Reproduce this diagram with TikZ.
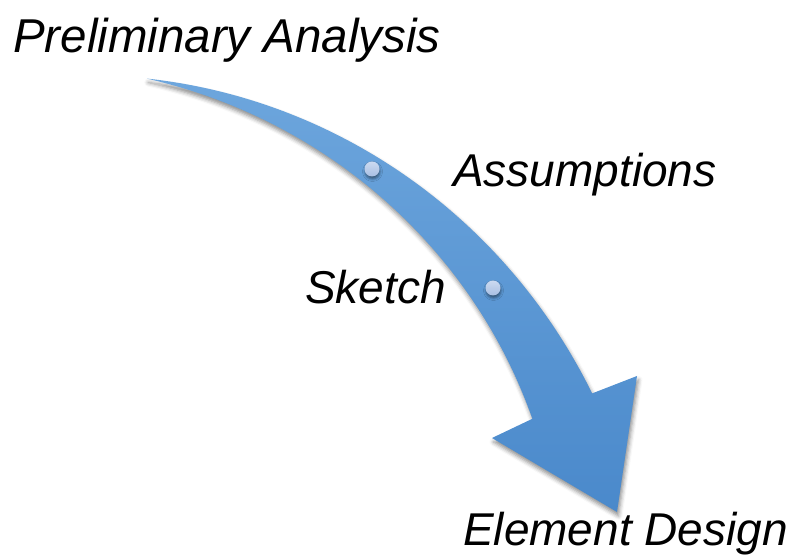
\documentclass[tikz,border=0pt]{standalone}
\usepackage{fontspec}
\setmainfont{Liberation Sans}
\usetikzlibrary{shadows.blur}
\definecolor{arrowtop}{HTML}{6DA6DD}
\definecolor{arrowbot}{HTML}{4A89CB}
\definecolor{dottop}{HTML}{CCDAF0}
\definecolor{dotbot}{HTML}{A8BFE3}
\tikzset{
  txt/.style={font=\fontsize{46}{52}\selectfont\itshape, anchor=base west, inner sep=0pt},
  bigtxt/.style={font=\fontsize{47.5}{54}\selectfont\itshape, anchor=base west, inner sep=0pt},
  dotnode/.style={circle, minimum size=15pt, inner sep=0pt, top color=dottop, bottom color=dotbot,
    blur shadow={shadow xshift=0.5pt, shadow yshift=-2.5pt, shadow blur radius=2.5pt, shadow opacity=45}},
  arrowshape/.style={top color=arrowtop, bottom color=arrowbot,
    blur shadow={shadow xshift=1.5pt, shadow yshift=-4pt, shadow blur radius=4pt, shadow opacity=45}}
}
\begin{document}
\begin{tikzpicture}[x=1pt,y=1pt]
\useasboundingbox (0,0) rectangle (798,556);
% curved arrow
\shade[arrowshape]
  plot[domain=80.5:23, samples=80, variable=\t]
    ({56+(550+0.565*(80.5-\t))*cos(\t)}, {-65+(550+0.565*(80.5-\t))*sin(\t)})
  -- (637,180) -- (617,44) -- (492,118)
  -- plot[domain=23:80.5, samples=80, variable=\t]
    ({56+(550-0.565*(80.5-\t))*cos(\t)}, {-65+(550-0.565*(80.5-\t))*sin(\t)})
  -- cycle;
% dots
\node[dotnode] (d1) at (372,387) {};
\node[dotnode] (d2) at (493,268) {};
% labels
\node[bigtxt] (pa) at (13,503) {Preliminary Analysis};
\node[txt] (as) at (453,369) {Assumptions};
\node[txt] (sk) at (305,252) {Sketch};
\node[txt] (ed) at (463,10) {Element Design};
\end{tikzpicture}
\end{document}
